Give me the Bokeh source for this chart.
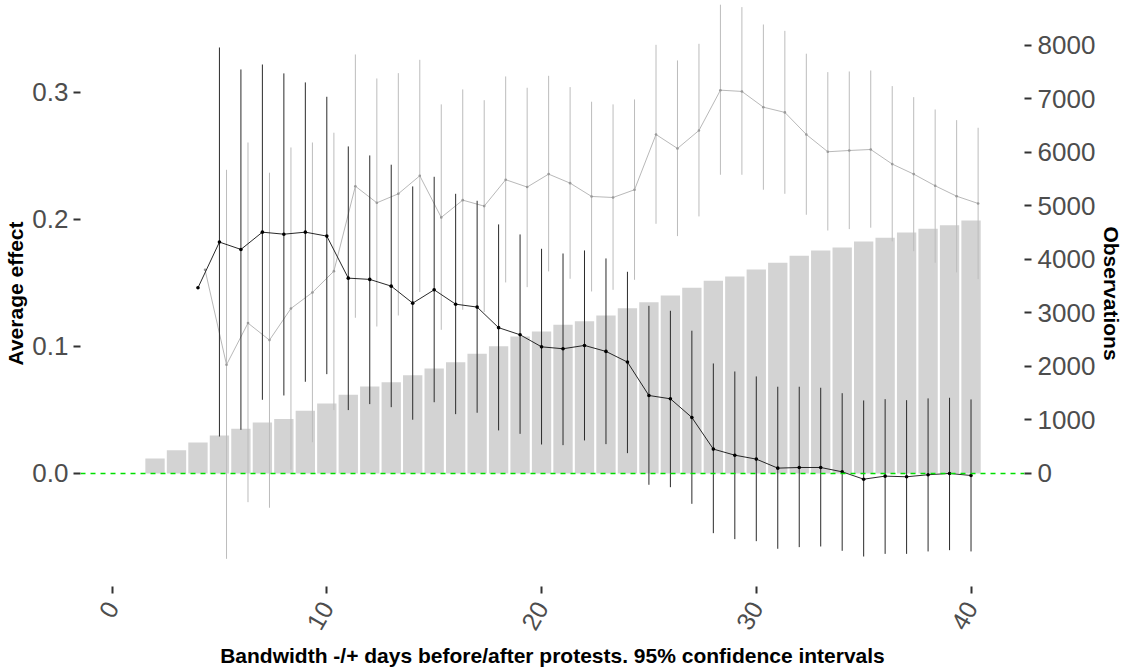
import math
from bokeh.plotting import figure
from bokeh.models import (Range1d, LinearAxis, FixedTicker, NumeralTickFormatter, Span)
from bokeh.embed import file_html
from bokeh.resources import INLINE

# Bandwidth in days (x axis)
obs_days = list(range(2, 41))
observations = [280, 436, 579, 710, 835, 953, 1016, 1171, 1308, 1470,
                1626, 1707, 1838, 1963, 2081, 2237, 2380, 2561, 2654, 2779,
                2847, 2953, 3090, 3202, 3327, 3471, 3601, 3682, 3813, 3938,
                4069, 4168, 4224, 4336, 4405, 4505, 4573, 4641, 4729]

est_days = list(range(4, 41))
ci_days = list(range(5, 41))

# Estimate A (black)
effect_a = [0.1462, 0.1822, 0.1764, 0.1900, 0.1884, 0.1900, 0.1869, 0.1538, 0.1528, 0.1475,
            0.1341, 0.1446, 0.1333, 0.1310, 0.1148, 0.1092, 0.0997, 0.0982, 0.1008, 0.0961,
            0.0877, 0.0614, 0.0588, 0.0441, 0.0192, 0.0144, 0.0113, 0.0042, 0.0047, 0.0047,
            0.0013, -0.0045, -0.0021, -0.0026, -0.0010, 0.0000, -0.0016]
upper_a = [0.3354, 0.3181, 0.3220, 0.3150, 0.3079, 0.2966, 0.2575, 0.2504, 0.2431, 0.2260,
           0.2336, 0.2202, 0.2147, 0.1961, 0.1882, 0.1769, 0.1732, 0.1756, 0.1693, 0.1588,
           0.1320, 0.1281, 0.1124, 0.0866, 0.0803, 0.0764, 0.0683, 0.0683, 0.0675, 0.0632,
           0.0575, 0.0585, 0.0577, 0.0591, 0.0596, 0.0583]
lower_a = [0.0291, 0.0344, 0.0580, 0.0614, 0.0722, 0.0782, 0.0499, 0.0546, 0.0522, 0.0423,
           0.0561, 0.0467, 0.0478, 0.0339, 0.0312, 0.0228, 0.0223, 0.0260, 0.0231, 0.0160,
           -0.0089, -0.0108, -0.0239, -0.0470, -0.0517, -0.0533, -0.0593, -0.0580, -0.0575, -0.0609,
           -0.0654, -0.0633, -0.0633, -0.0614, -0.0604, -0.0614]

# Estimate B (grey)
effect_b = [0.1604, 0.0856, 0.1184, 0.1050, 0.1299, 0.1425, 0.1593, 0.2262, 0.2131, 0.2202,
            0.2344, 0.2016, 0.2152, 0.2105, 0.2313, 0.2255, 0.2357, 0.2286, 0.2181, 0.2173,
            0.2234, 0.2669, 0.2559, 0.2701, 0.3018, 0.3008, 0.2884, 0.2843, 0.2669, 0.2533,
            0.2543, 0.2551, 0.2436, 0.2357, 0.2265, 0.2183, 0.2126]
upper_b = [0.2391, 0.2606, 0.2368, 0.2567, 0.2606, 0.2683, 0.3299, 0.3110, 0.3152, 0.3257,
           0.2906, 0.3024, 0.2939, 0.3126, 0.3037, 0.3131, 0.3042, 0.2927, 0.2906, 0.2945,
           0.3375, 0.3252, 0.3383, 0.3691, 0.3672, 0.3535, 0.3485, 0.3305, 0.3160, 0.3165,
           0.3173, 0.3050, 0.2963, 0.2866, 0.2782, 0.2722]
lower_b = [-0.0672, -0.0226, -0.0270, 0.0029, 0.0246, 0.0499, 0.1226, 0.1157, 0.1244, 0.1428,
           0.1131, 0.1289, 0.1271, 0.1504, 0.1467, 0.1591, 0.1533, 0.1433, 0.1446, 0.1525,
           0.1966, 0.1869, 0.2024, 0.2352, 0.2352, 0.2234, 0.2202, 0.2037, 0.1913, 0.1924,
           0.1935, 0.1827, 0.1750, 0.1659, 0.1583, 0.1530]

x_ticks = [0, 10, 20, 30, 40]
effect_ticks = [0.0, 0.1, 0.2, 0.3]
obs_ticks = [0, 1000, 2000, 3000, 4000, 5000, 6000, 7000, 8000]

DODGE = 0.33          # horizontal shift of the grey series
Y_LO, Y_HI = -0.089, 0.3724
OBS_PER_EFFECT = 23738.0   # secondary-axis scale factor

FONT = "Liberation Sans"
TICK_TXT = "#4d4d4d"
TICK_LINE = "#333333"

p = figure(width=1126, height=671,
           x_range=Range1d(-1.47, 42.49), y_range=Range1d(Y_LO, Y_HI),
           output_backend="svg", toolbar_location=None,
           min_border_left=80, min_border_right=101,
           min_border_top=0, min_border_bottom=85)
p.outline_line_color = None
p.xgrid.visible = False
p.ygrid.visible = False
p.background_fill_color = "white"

p.extra_y_ranges = {"obs": Range1d(Y_LO * OBS_PER_EFFECT, Y_HI * OBS_PER_EFFECT)}

# observation counts as bars on the secondary scale
p.vbar(x=obs_days, top=observations, width=0.9, bottom=0,
       y_range_name="obs", fill_color="#d3d3d3", line_color=None)

# grey series
bx = [d + DODGE for d in est_days]
bcx = [d + DODGE for d in ci_days]
p.segment(x0=bcx, y0=lower_b, x1=bcx, y1=upper_b, line_color="#bcbcbc", line_width=1)
p.line(bx, effect_b, line_color="#b0b0b0", line_width=0.9)
p.scatter(bx, effect_b, marker="circle", size=2.6, fill_color="#999999", line_color=None)

# black series
p.segment(x0=ci_days, y0=lower_a, x1=ci_days, y1=upper_a, line_color="#2b2b2b", line_width=1)
p.line(est_days, effect_a, line_color="#111111", line_width=0.9)
p.scatter(est_days, effect_a, marker="circle", size=3.6, fill_color="black", line_color=None)

p.add_layout(Span(location=0, dimension="width", line_color="#00e000",
                  line_dash="5 5", line_width=1.4))


def style_axis(ax, size="26px"):
    ax.axis_line_color = None
    ax.major_tick_line_color = TICK_LINE
    ax.major_tick_line_width = 2
    ax.major_tick_in = 0
    ax.major_tick_out = 7
    ax.minor_tick_line_color = None
    ax.major_label_text_font = FONT
    ax.major_label_text_font_size = size
    ax.major_label_text_color = TICK_TXT
    ax.major_label_standoff = 6
    ax.axis_label_text_font = FONT
    ax.axis_label_text_font_size = "21px"
    ax.axis_label_text_font_style = "bold"
    ax.axis_label_text_color = "black"


xa = p.xaxis[0]
style_axis(xa, "25px")
xa.ticker = FixedTicker(ticks=x_ticks)
xa.major_label_orientation = math.pi / 3
xa.major_label_standoff = 10
xa.axis_label = "Bandwidth -/+ days before/after protests. 95% confidence intervals"
xa.axis_label_standoff = 4

ya = p.yaxis[0]
style_axis(ya)
ya.ticker = FixedTicker(ticks=effect_ticks)
ya.formatter = NumeralTickFormatter(format="0.0")
ya.major_label_standoff = 5
ya.axis_label = "Average effect"
ya.axis_label_standoff = 2

ra = LinearAxis(y_range_name="obs", axis_label="Observations")
style_axis(ra)
ra.ticker = FixedTicker(ticks=obs_ticks)
ra.axis_label_standoff = 2
p.add_layout(ra, "right")

open("out.html", "w").write(file_html(p, INLINE))
